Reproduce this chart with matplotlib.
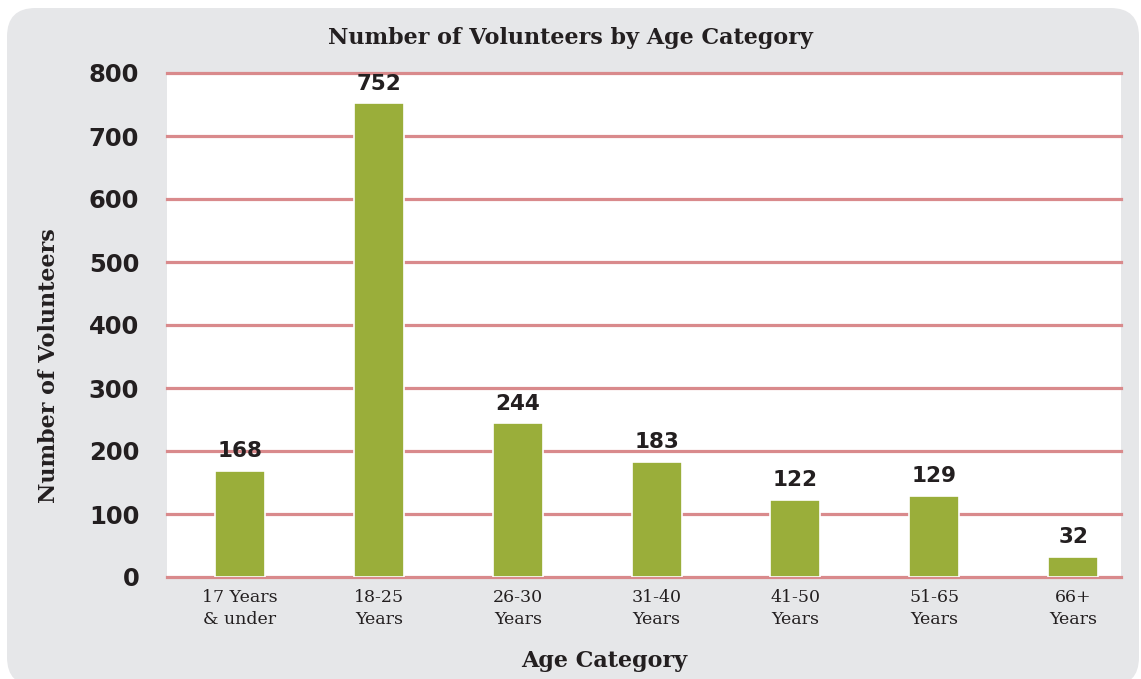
import matplotlib
matplotlib.use("Agg")
import matplotlib.pyplot as plt
import matplotlib.patheffects as pe
from matplotlib.patches import FancyBboxPatch

categories = ["17 Years\n& under", "18-25\nYears", "26-30\nYears", "31-40\nYears",
              "41-50\nYears", "51-65\nYears", "66+\nYears"]
volunteers = [168, 752, 244, 183, 122, 129, 32]
y_ticks = [0, 100, 200, 300, 400, 500, 600, 700, 800]

W, H = 1141, 679
fig = plt.figure(figsize=(W / 100, H / 100), dpi=100)
fig.patch.set_facecolor("white")

# grey rounded panel behind everything
panel = FancyBboxPatch((7 / W, -0.01), 1132 / W, 1 - 8 / H + 0.01,
                       boxstyle="round,pad=0,rounding_size=0.025",
                       transform=fig.transFigure, facecolor="#e6e7e9",
                       edgecolor="none", zorder=-5, mutation_aspect=W / H)
fig.patches.append(panel)

ax = fig.add_axes([167 / W, 1 - 577 / H, 954 / W, 504 / H])
ax.set_zorder(1)
ax.set_facecolor("white")

x = list(range(len(categories)))
bars = ax.bar(x, volunteers, width=0.36, color="#9aae3a", edgecolor="white",
              linewidth=1.2, zorder=3)
for b in bars:
    b.set_path_effects([pe.SimplePatchShadow(offset=(0, 0), shadow_rgbFace="#555555",
                                             alpha=0.25, rho=0.9),
                        pe.Normal()])

for xi, v in zip(x, volunteers):
    ax.annotate(str(v), (xi, v), xytext=(0, 7), textcoords="offset points",
                ha="center", va="bottom", fontsize=15.5, fontweight="bold",
                family="DejaVu Sans", color="#231f20", zorder=4)

ax.set_xlim(-0.526, 6.345)
ax.set_ylim(0, 800)
ax.set_yticks(y_ticks)
ax.set_yticklabels([str(t) for t in y_ticks], fontsize=17.5, fontweight="bold",
                   family="DejaVu Sans", color="#231f20")
ax.set_xticks(x)
ax.set_xticklabels(categories, fontsize=12.5, family="DejaVu Serif", color="#231f20",
                   linespacing=1.35)
ax.tick_params(axis="y", length=0, pad=20)
ax.tick_params(axis="x", length=0, pad=9)

for t in y_ticks:
    ax.axhline(t, color="#d98a8c", lw=2.3, zorder=2, clip_on=False)

for s in ax.spines.values():
    s.set_visible(False)

ax.set_ylabel("Number of Volunteers", fontsize=16, fontweight="bold",
              family="DejaVu Serif", color="#231f20")
ax.yaxis.set_label_coords(-0.112, 0.42)
ax.set_xlabel("Age Category", fontsize=16, fontweight="bold",
              family="DejaVu Serif", color="#231f20")
ax.xaxis.set_label_coords(0.458, -0.145)
fig.text(570 / W, 1 - 38 / H, "Number of Volunteers by Age Category",
         ha="center", va="center", fontsize=16, fontweight="bold",
         family="DejaVu Serif", color="#231f20")

fig.savefig("out.png", dpi=100)
